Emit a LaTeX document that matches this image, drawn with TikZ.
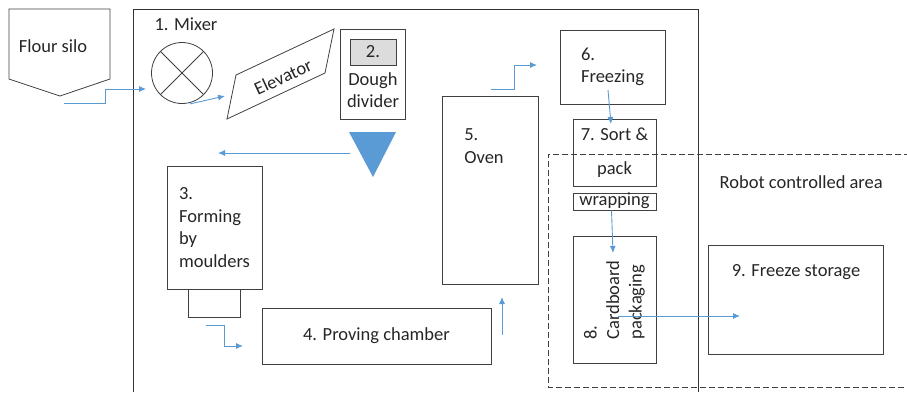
\documentclass[tikz,border=0pt]{standalone}
\usepackage{fontspec}
\setmainfont{Carlito}
\usetikzlibrary{arrows.meta}
\definecolor{flowblue}{HTML}{5B9BD5}
\definecolor{boxgray}{HTML}{DCDCDC}

\begin{document}
\begin{tikzpicture}[x=1pt,y=-1pt,>={Latex[length=7pt,width=6pt]},line width=0.8pt]
  \tikzstyle{every node}=[font=\fontsize{18.5}{22.5}\selectfont,text=black!85]
  \tikzstyle{box}=[draw=black!75,rectangle,inner sep=0pt]
  \tikzstyle{flow}=[draw=flowblue,->,line width=0.9pt]
  \useasboundingbox (0,0) rectangle (907,392);

  % factory hall and robot area
  \draw[black!80] (133,392) -- (133,9) -- (698,9) -- (698,392);
  \draw[black!75,dash pattern=on 6pt off 3pt] (910,154) -- (548,154) -- (548,387) -- (910,387);
  \node[anchor=west] (robot) at (716,182) {Robot controlled area};

  % silo, mixer, elevator
  \draw[black!75] (9,9) -- (110,9) -- (110,79) -- (60,96) -- (9,79) -- cycle;
  \node (silo) at (53,46) {Flour silo};
  \node[box,circle,minimum size=61pt] (mixer) at (182,73) {};
  \draw[black!75] (mixer.north west) -- (mixer.south east)
                  (mixer.north east) -- (mixer.south west);
  \node (mixerlbl) at (186,24) {1. Mixer};
  \draw[black!75] (227,119) -- (236,75) -- (334,29) -- (325,73) -- cycle;
  \node[rotate=25,inner sep=0pt] (elevator) at (283,77) {Elevator};

  % divider
  \node[box,minimum width=65pt,minimum height=90pt] (divider) at (372.5,74) {};
  \node[box,fill=boxgray,minimum width=46pt,minimum height=26pt] (divnum) at (373,52) {2.};
  \node[align=center] (divlbl) at (373,90) {Dough\\divider};
  \fill[flowblue] (349,132) -- (396,132) -- (373,177) -- cycle;

  % forming, proving, oven
  \node[box,minimum width=95pt,minimum height=123pt,align=left] (forming) at (214.5,227.5) {3.\\Forming\\by\\moulders};
  \node[box,minimum width=52pt,minimum height=28pt,anchor=north] (mould) at (forming.south) {};
  \node[box,minimum width=229pt,minimum height=56pt] (proving) at (376.5,336) {4. Proving chamber};
  \node[box,minimum width=96pt,minimum height=188pt] (oven) at (490,190) {};
  \node[align=left] (ovenlbl) at (484,146) {5.\\Oven};

  % freezing and packing
  \node[box,minimum width=105pt,minimum height=74pt,align=left] (freezing) at (612.5,67) {6.\\Freezing};
  \node[box,minimum width=83pt,minimum height=67pt,align=center] (sort) at (614.5,152.5) {7. Sort \&\\[11pt]pack};
  \node[box,minimum width=83pt,minimum height=17pt,text height=12pt,text depth=5pt] (wrap) at (614.5,201.5) {wrapping};
  \node[box,rotate=90,minimum width=127pt,minimum height=83pt,align=left] (carton) at (614.5,300) {8.\\Cardboard\\packaging};
  \node[box,minimum width=175pt,minimum height=109pt] (storage) at (795.5,299.5) {};
  \node (storagelbl) at (796,272) {9. Freeze storage};

  % flow arrows
  \coordinate (s0) at (64,103);
  \coordinate (m0) at (146,89);
  \coordinate (e0) at (225,96);
  \coordinate (t0) at (350,153);
  \coordinate (f0) at (218,153);
  \coordinate (p0) at (206,325);
  \coordinate (p1) at (243,346);
  \coordinate (o0) at (502,335);
  \coordinate (o1) at (502,297);
  \coordinate (z0) at (491,89);
  \coordinate (z1) at (537,65);
  \coordinate (k0) at (608,90);
  \coordinate (k1) at (611,124);
  \coordinate (c0) at (613,253);
  \coordinate (c1) at (618,316);
  \coordinate (c2) at (740,316);
  \draw[flow] (s0) -- ++(41,0) |- (m0);
  \draw[flow] ([xshift=8pt]mixer.south) -- (e0);
  \draw[flow] (t0) -- (f0);
  \draw[flow] (p0) -- ++(18,0) |- (p1);
  \draw[flow] (o0) -- (o1);
  \draw[flow] (z0) -- ++(23,0) |- (z1);
  \draw[flow] (k0) -- (k1);
  \draw[flow] ([xshift=-3pt]wrap.south) -- (c0);
  \draw[flow] (c1) -- (c2);
\end{tikzpicture}
\end{document}
